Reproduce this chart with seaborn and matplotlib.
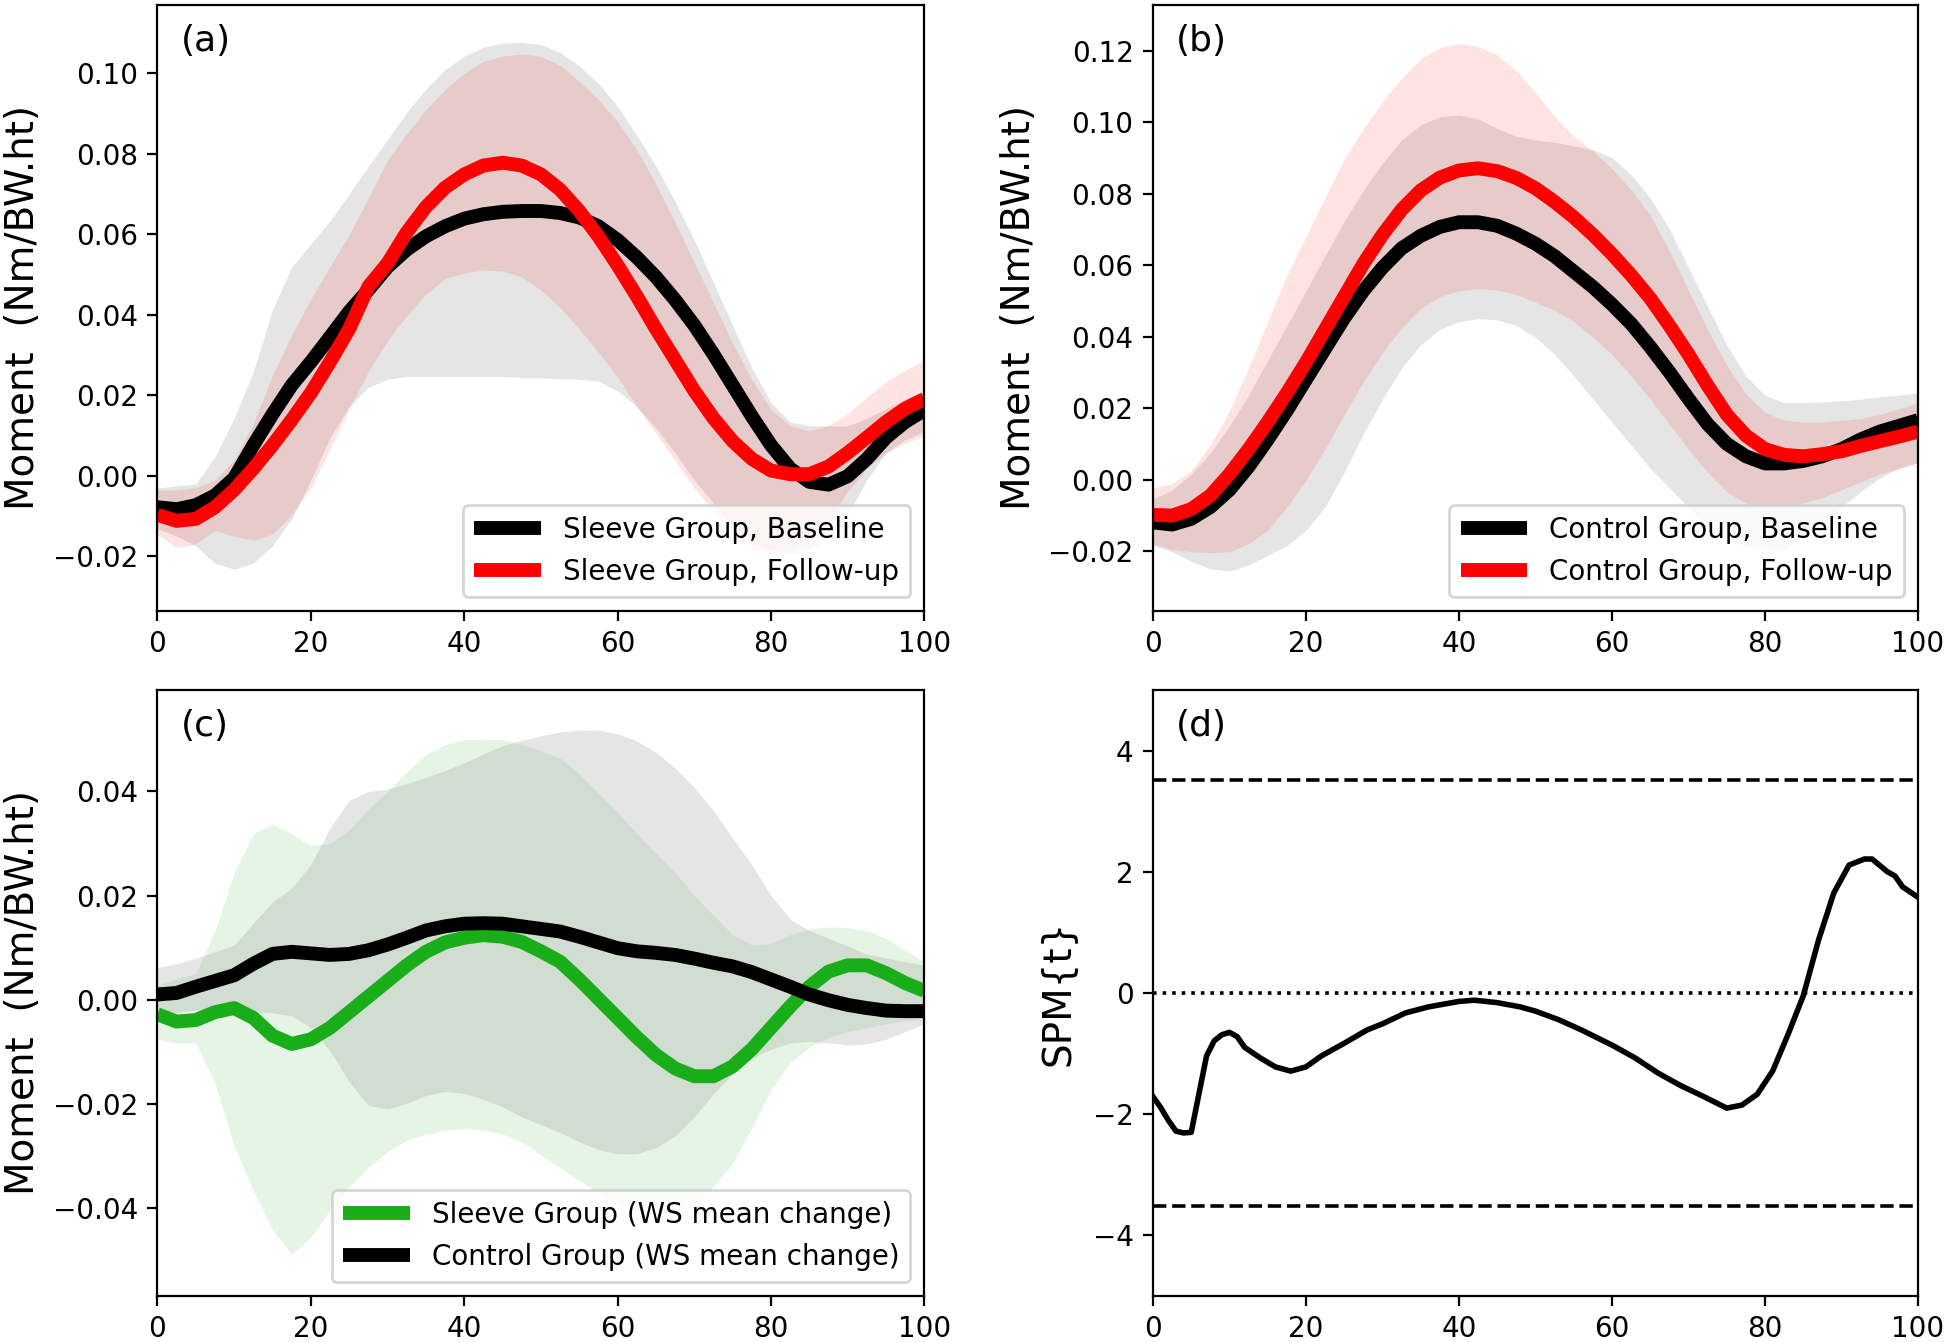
import numpy as np
import seaborn as sns
import matplotlib
matplotlib.use("Agg")
import matplotlib.pyplot as plt

# x grid (% of stance) for panels a, b and c
x_pct = [0, 2.5, 5, 7.5, 10, 12.5, 15, 17.5, 20, 22.5, 25, 27.5, 30, 32.5, 35, 37.5, 40, 42.5, 45, 47.5,
         50, 52.5, 55, 57.5, 60, 62.5, 65, 67.5, 70, 72.5, 75, 77.5, 80, 82.5, 85, 87.5, 90, 92.5, 95, 97.5, 100]

# (a) sleeve group
a_base_mean = [-0.0078, -0.0083, -0.0073, -0.0049, -0.0006, 0.0076, 0.0153, 0.0225, 0.0283, 0.0345,
               0.0408, 0.0462, 0.0519, 0.0562, 0.0595, 0.0620, 0.0639, 0.0650, 0.0656, 0.0658,
               0.0658, 0.0653, 0.0642, 0.0620, 0.0586, 0.0543, 0.0494, 0.0437, 0.0374, 0.0302,
               0.0225, 0.0148, 0.0076, 0.0018, -0.0015, -0.0022, -0.0001, 0.0042, 0.0095, 0.0134, 0.0163]
a_base_hi = [-0.0030, -0.0025, -0.0020, 0.0047, 0.0143, 0.0259, 0.0413, 0.0519, 0.0576, 0.0634,
             0.0701, 0.0769, 0.0836, 0.0903, 0.0961, 0.1009, 0.1043, 0.1065, 0.1075, 0.1077,
             0.1072, 0.1052, 0.1019, 0.0975, 0.0918, 0.0846, 0.0769, 0.0682, 0.0586, 0.0480,
             0.0374, 0.0268, 0.0182, 0.0134, 0.0124, 0.0124, 0.0124, 0.0143, 0.0167, 0.0191, 0.0211]
a_base_lo = [-0.0131, -0.0150, -0.0174, -0.0218, -0.0232, -0.0217, -0.0174, -0.0107, -0.0011, 0.0095,
             0.0172, 0.0220, 0.0240, 0.0247, 0.0247, 0.0247, 0.0247, 0.0247, 0.0247, 0.0244,
             0.0244, 0.0241, 0.0240, 0.0235, 0.0211, 0.0172, 0.0119, 0.0057, -0.0011, -0.0068,
             -0.0126, -0.0165, -0.0184, -0.0193, -0.0184, -0.0155, -0.0097, -0.0010, 0.0057, 0.0090, 0.0110]
a_fu_mean = [-0.0097, -0.0112, -0.0107, -0.0078, -0.0035, 0.0018, 0.0076, 0.0139, 0.0206, 0.0283,
             0.0365, 0.0470, 0.0528, 0.0605, 0.0668, 0.0716, 0.0749, 0.0771, 0.0778, 0.0771,
             0.0749, 0.0711, 0.0658, 0.0595, 0.0523, 0.0446, 0.0365, 0.0288, 0.0211, 0.0143,
             0.0086, 0.0042, 0.0013, 0.0004, 0.0004, 0.0023, 0.0057, 0.0095, 0.0134, 0.0167, 0.0191]
a_fu_hi = [-0.0035, -0.0035, -0.0030, -0.0010, 0.0040, 0.0130, 0.0250, 0.0350, 0.0440, 0.0520,
           0.0600, 0.0690, 0.0785, 0.0850, 0.0910, 0.0960, 0.1000, 0.1030, 0.1043, 0.1048,
           0.1043, 0.1020, 0.0980, 0.0935, 0.0880, 0.0810, 0.0725, 0.0630, 0.0530, 0.0430,
           0.0330, 0.0240, 0.0165, 0.0125, 0.0112, 0.0125, 0.0155, 0.0195, 0.0234, 0.0263, 0.0287]
a_fu_lo = [-0.0145, -0.0179, -0.0169, -0.0136, -0.0150, -0.0160, -0.0145, -0.0097, -0.0030, 0.0066,
           0.0167, 0.0259, 0.0336, 0.0398, 0.0451, 0.0490, 0.0504, 0.0511, 0.0509, 0.0494,
           0.0461, 0.0418, 0.0365, 0.0307, 0.0245, 0.0172, 0.0105, 0.0038, -0.0030, -0.0088,
           -0.0145, -0.0184, -0.0193, -0.0185, -0.0155, -0.0107, -0.0039, 0.0018, 0.0057, 0.0081, 0.0100]

# (b) control group
b_base_mean = [-0.0120, -0.0126, -0.0110, -0.0077, -0.0029, 0.0036, 0.0112, 0.0193, 0.0280, 0.0366,
               0.0452, 0.0528, 0.0593, 0.0647, 0.0682, 0.0707, 0.0720, 0.0720, 0.0710, 0.0688,
               0.0660, 0.0625, 0.0582, 0.0539, 0.0490, 0.0436, 0.0371, 0.0301, 0.0226, 0.0155,
               0.0100, 0.0065, 0.0045, 0.0045, 0.0052, 0.0065, 0.0085, 0.0112, 0.0134, 0.0150, 0.0166]
b_base_hi = [-0.0056, -0.0029, 0.0015, 0.0074, 0.0150, 0.0236, 0.0334, 0.0431, 0.0528, 0.0626,
             0.0723, 0.0809, 0.0885, 0.0950, 0.0993, 0.1015, 0.1020, 0.1009, 0.0982, 0.0961,
             0.0950, 0.0944, 0.0934, 0.0923, 0.0901, 0.0853, 0.0788, 0.0701, 0.0593, 0.0485,
             0.0377, 0.0290, 0.0236, 0.0215, 0.0215, 0.0217, 0.0220, 0.0225, 0.0231, 0.0236, 0.0242]
b_base_lo = [-0.0185, -0.0202, -0.0229, -0.0250, -0.0256, -0.0239, -0.0212, -0.0185, -0.0142, -0.0077,
             0.0020, 0.0128, 0.0225, 0.0312, 0.0377, 0.0420, 0.0442, 0.0450, 0.0447, 0.0431,
             0.0398, 0.0350, 0.0290, 0.0225, 0.0160, 0.0096, 0.0031, -0.0023, -0.0077, -0.0126,
             -0.0164, -0.0185, -0.0196, -0.0196, -0.0164, -0.0126, -0.0077, -0.0034, 0.0004, 0.0031, 0.0047]
b_fu_mean = [-0.0099, -0.0101, -0.0083, -0.0045, 0.0015, 0.0085, 0.0161, 0.0242, 0.0328, 0.0420,
             0.0512, 0.0604, 0.0685, 0.0755, 0.0809, 0.0845, 0.0865, 0.0871, 0.0863, 0.0844,
             0.0815, 0.0777, 0.0734, 0.0685, 0.0631, 0.0572, 0.0507, 0.0431, 0.0350, 0.0263,
             0.0182, 0.0123, 0.0085, 0.0069, 0.0065, 0.0071, 0.0079, 0.0094, 0.0107, 0.0120, 0.0134]
b_fu_hi = [-0.0023, -0.0012, 0.0025, 0.0096, 0.0193, 0.0312, 0.0442, 0.0571, 0.0680, 0.0788,
           0.0896, 0.0982, 0.1058, 0.1123, 0.1177, 0.1209, 0.1220, 0.1211, 0.1188, 0.1144,
           0.1085, 0.1015, 0.0960, 0.0920, 0.0870, 0.0810, 0.0740, 0.0640, 0.0530, 0.0420,
           0.0320, 0.0240, 0.0188, 0.0166, 0.0161, 0.0161, 0.0166, 0.0171, 0.0182, 0.0198, 0.0215]
b_fu_lo = [-0.0180, -0.0196, -0.0202, -0.0205, -0.0202, -0.0180, -0.0142, -0.0077, -0.0001, 0.0085,
           0.0182, 0.0274, 0.0355, 0.0425, 0.0479, 0.0512, 0.0528, 0.0534, 0.0530, 0.0518,
           0.0496, 0.0474, 0.0442, 0.0398, 0.0350, 0.0290, 0.0225, 0.0155, 0.0085, 0.0020,
           -0.0034, -0.0066, -0.0077, -0.0077, -0.0066, -0.0050, -0.0029, -0.0007, 0.0015, 0.0031, 0.0047]

# (c) within-subject mean change
c_sleeve_mean = [-0.0028, -0.0042, -0.0039, -0.0024, -0.0016, -0.0035, -0.0069, -0.0085, -0.0076, -0.0054,
                 -0.0024, 0.0006, 0.0036, 0.0066, 0.0092, 0.0110, 0.0119, 0.0124, 0.0121, 0.0111,
                 0.0093, 0.0073, 0.0039, 0.0002, -0.0035, -0.0072, -0.0106, -0.0132, -0.0147, -0.0147,
                 -0.0128, -0.0095, -0.0054, -0.0013, 0.0025, 0.0054, 0.0066, 0.0066, 0.0051, 0.0032, 0.0017]
c_sleeve_hi = [0.0028, 0.0040, 0.0050, 0.0133, 0.0244, 0.0319, 0.0337, 0.0319, 0.0296, 0.0300,
               0.0326, 0.0367, 0.0400, 0.0438, 0.0471, 0.0490, 0.0499, 0.0501, 0.0499, 0.0490,
               0.0478, 0.0464, 0.0434, 0.0397, 0.0360, 0.0319, 0.0281, 0.0244, 0.0200, 0.0162,
               0.0125, 0.0105, 0.0108, 0.0125, 0.0136, 0.0140, 0.0138, 0.0133, 0.0118, 0.0095, 0.0073]
c_sleeve_lo = [-0.0076, -0.0083, -0.0083, -0.0160, -0.0281, -0.0366, -0.0441, -0.0489, -0.0456, -0.0404,
               -0.0359, -0.0322, -0.0292, -0.0270, -0.0258, -0.0251, -0.0247, -0.0251, -0.0258, -0.0273,
               -0.0298, -0.0322, -0.0348, -0.0370, -0.0389, -0.0404, -0.0411, -0.0407, -0.0389, -0.0359,
               -0.0314, -0.0247, -0.0173, -0.0121, -0.0091, -0.0072, -0.0061, -0.0054, -0.0046, -0.0040, -0.0035]
c_control_mean = [0.0010, 0.0013, 0.0025, 0.0036, 0.0047, 0.0069, 0.0088, 0.0092, 0.0089, 0.0086,
                  0.0088, 0.0095, 0.0106, 0.0119, 0.0133, 0.0141, 0.0146, 0.0147, 0.0146, 0.0141,
                  0.0136, 0.0131, 0.0121, 0.0110, 0.0099, 0.0093, 0.0090, 0.0086, 0.0079, 0.0071,
                  0.0064, 0.0053, 0.0039, 0.0025, 0.0010, -0.0001, -0.0010, -0.0016, -0.0021, -0.0022, -0.0022]
c_control_hi = [0.0062, 0.0069, 0.0080, 0.0092, 0.0105, 0.0147, 0.0188, 0.0214, 0.0260, 0.0330,
                0.0383, 0.0400, 0.0404, 0.0415, 0.0427, 0.0440, 0.0455, 0.0472, 0.0488, 0.0498,
                0.0507, 0.0514, 0.0518, 0.0518, 0.0511, 0.0497, 0.0475, 0.0445, 0.0408, 0.0363,
                0.0311, 0.0259, 0.0200, 0.0155, 0.0133, 0.0118, 0.0103, 0.0088, 0.0080, 0.0073, 0.0066]
c_control_lo = [-0.0028, -0.0024, -0.0020, -0.0020, -0.0022, -0.0024, -0.0025, -0.0031, -0.0054, -0.0098,
                -0.0158, -0.0203, -0.0210, -0.0199, -0.0184, -0.0176, -0.0180, -0.0191, -0.0206, -0.0225,
                -0.0240, -0.0255, -0.0273, -0.0288, -0.0296, -0.0296, -0.0284, -0.0262, -0.0225, -0.0180,
                -0.0143, -0.0113, -0.0095, -0.0083, -0.0080, -0.0083, -0.0087, -0.0085, -0.0076, -0.0061, -0.0046]

# (d) SPM t statistic
x_d = [0, 1, 2, 3, 4, 5, 6, 7, 8, 9, 10, 11, 12, 14, 16, 18, 20, 22, 25, 28, 30, 33, 36, 40, 42, 45, 48, 50, 53,
       56, 60, 63, 66, 69, 72, 75, 77, 79, 81, 83, 85, 87, 89, 91, 93, 94, 96, 97, 98, 100]
spm_t = [-1.71, -1.89, -2.10, -2.28, -2.31, -2.30, -1.67, -1.04, -0.79, -0.69, -0.65, -0.72, -0.90, -1.07, -1.22,
         -1.29, -1.22, -1.04, -0.83, -0.61, -0.51, -0.33, -0.23, -0.14, -0.12, -0.16, -0.23, -0.30, -0.44, -0.61,
         -0.86, -1.07, -1.32, -1.53, -1.71, -1.90, -1.85, -1.67, -1.29, -0.69, -0.05, 0.87, 1.65, 2.11, 2.21, 2.21,
         2.00, 1.93, 1.75, 1.58]
t_crit = 3.52

GREEN = "#1aad1a"
LW = 5
line_kw = dict(lw=LW, solid_joinstyle="round", solid_capstyle="butt")

fig = plt.figure(figsize=(9.72, 6.71), dpi=200)
ax_a = fig.add_axes([0.081, 0.5447, 0.3945, 0.4516])
ax_b = fig.add_axes([0.5931, 0.5447, 0.3935, 0.4516])
ax_c = fig.add_axes([0.081, 0.0343, 0.3945, 0.4516])
ax_d = fig.add_axes([0.5931, 0.0343, 0.3935, 0.4516])

ylab = "Moment  (Nm/BW.ht)"

# panel a
ax_a.fill_between(x_pct, a_base_lo, a_base_hi, color="gray", alpha=0.2, lw=0)
ax_a.fill_between(x_pct, a_fu_lo, a_fu_hi, color="red", alpha=0.11, lw=0)
sns.lineplot(x=x_pct, y=a_base_mean, ax=ax_a, color="k", label="Sleeve Group, Baseline", **line_kw)
sns.lineplot(x=x_pct, y=a_fu_mean, ax=ax_a, color="red", label="Sleeve Group, Follow-up", **line_kw)
ax_a.set_ylim(-0.0336, 0.117)
ax_a.set_yticks([-0.02, 0.0, 0.02, 0.04, 0.06, 0.08, 0.10])

# panel b
ax_b.fill_between(x_pct, b_base_lo, b_base_hi, color="gray", alpha=0.2, lw=0)
ax_b.fill_between(x_pct, b_fu_lo, b_fu_hi, color="red", alpha=0.11, lw=0)
sns.lineplot(x=x_pct, y=b_base_mean, ax=ax_b, color="k", label="Control Group, Baseline", **line_kw)
sns.lineplot(x=x_pct, y=b_fu_mean, ax=ax_b, color="red", label="Control Group, Follow-up", **line_kw)
ax_b.set_ylim(-0.0368, 0.1328)
ax_b.set_yticks([-0.02, 0.0, 0.02, 0.04, 0.06, 0.08, 0.10, 0.12])

# panel c
ax_c.fill_between(x_pct, c_sleeve_lo, c_sleeve_hi, color=GREEN, alpha=0.11, lw=0)
ax_c.fill_between(x_pct, c_control_lo, c_control_hi, color="gray", alpha=0.2, lw=0)
sns.lineplot(x=x_pct, y=c_sleeve_mean, ax=ax_c, color=GREEN, label="Sleeve Group (WS mean change)", **line_kw)
sns.lineplot(x=x_pct, y=c_control_mean, ax=ax_c, color="k", label="Control Group (WS mean change)", **line_kw)
ax_c.set_ylim(-0.0569, 0.0595)
ax_c.set_yticks([-0.04, -0.02, 0.0, 0.02, 0.04])

# panel d
sns.lineplot(x=x_d, y=spm_t, ax=ax_d, color="k", lw=2, solid_joinstyle="round")
ax_d.axhline(t_crit, color="k", ls="--", lw=1.3, xmax=0.995)
ax_d.axhline(-t_crit, color="k", ls="--", lw=1.3, xmax=0.995)
ax_d.axhline(0, color="k", ls=":", lw=1.3)
ax_d.set_ylim(-5, 5)
ax_d.set_yticks([-4, -2, 0, 2, 4])
ax_d.set_ylabel("SPM{t}", fontsize=14)

for ax, tag in zip([ax_a, ax_b, ax_c, ax_d], ["(a)", "(b)", "(c)", "(d)"]):
    ax.set_xlim(0, 100)
    ax.set_xticks([0, 20, 40, 60, 80, 100])
    ax.text(0.03, 0.94, tag, transform=ax.transAxes, fontsize=13, va="center", ha="left")
    if ax is not ax_d:
        ax.set_ylabel(ylab, fontsize=14)
        ax.legend(loc="lower right", fontsize=10, handlelength=2.4)
        ax.yaxis.set_label_coords(-0.15, 0.5)

ax_d.yaxis.set_label_coords(-0.1, 0.5)

fig.savefig("out.png", dpi=200)
